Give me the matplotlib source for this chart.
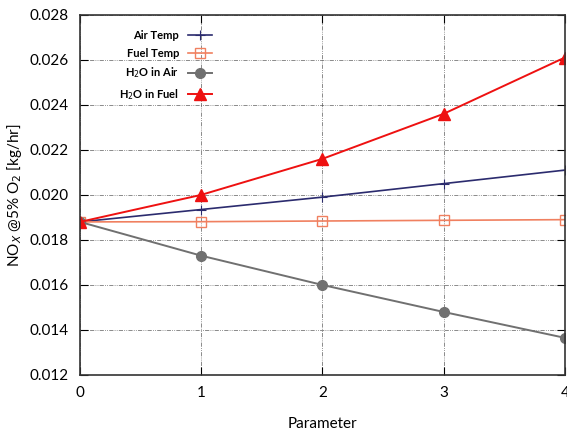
import matplotlib
matplotlib.use("Agg")
import matplotlib.pyplot as plt

plt.rcParams["font.family"] = ["Lato", "DejaVu Sans"]

x = [0, 1, 2, 3, 4]
air_temp = [0.0188, 0.01935, 0.0199, 0.0205, 0.0211]
fuel_temp = [0.0188, 0.01881, 0.01884, 0.01887, 0.0189]
h2o_air = [0.0188, 0.0173, 0.0160, 0.0148, 0.01365]
h2o_fuel = [0.0188, 0.0200, 0.0216, 0.0236, 0.0261]

fig = plt.figure(figsize=(5.67, 4.36), dpi=100)
ax = fig.add_axes([0.141, 0.14, 0.855, 0.826])

ax.plot(x, air_temp, "-", color="#2b2b6e", lw=1.2, marker="+", ms=7, mew=0.8, label="Air Temp")
ax.plot(x, fuel_temp, "-", color="#f08060", lw=1.2, marker="s", ms=7, mfc="none", mew=1, label="Fuel Temp")
ax.plot(x, h2o_air, "-", color="#707070", lw=1.4, marker="o", ms=7, label="H$_2$O in Air")
ax.plot(x, h2o_fuel, "-", color="#ee1111", lw=1.4, marker="^", ms=8, label="H$_2$O in Fuel")

ax.set_xlim(0, 4)
ax.set_ylim(0.012, 0.028)
ax.set_xticks(x)
ax.set_yticks([0.012, 0.014, 0.016, 0.018, 0.020, 0.022, 0.024, 0.026, 0.028])
ax.yaxis.set_major_formatter(matplotlib.ticker.FormatStrFormatter("%.3f"))
ax.grid(True, color="#555555", linestyle=(0, (5, 1.5, 1, 1.5, 1, 1.5)), lw=0.6, alpha=0.8)
ax.tick_params(direction="in", length=6, labelsize=11, pad=8, top=True, right=True)
for s in ax.spines.values():
    s.set_color("#333333")
    s.set_linewidth(1.2)

ax.set_xlabel("Parameter", fontsize=11, labelpad=12)
ax.set_ylabel("NO$_X$ @5% O$_2$ [kg/hr]", fontsize=11)

leg = ax.legend(loc="upper left", bbox_to_anchor=(0.06, 0.985), markerfirst=False, frameon=False,
                prop={"size": 8, "weight": "bold"}, handlelength=2.2, labelspacing=0.6)
for t in leg.get_texts():
    t.set_ha("right")
leg._legend_box.align = "right"

fig.savefig("out.png", dpi=100)
